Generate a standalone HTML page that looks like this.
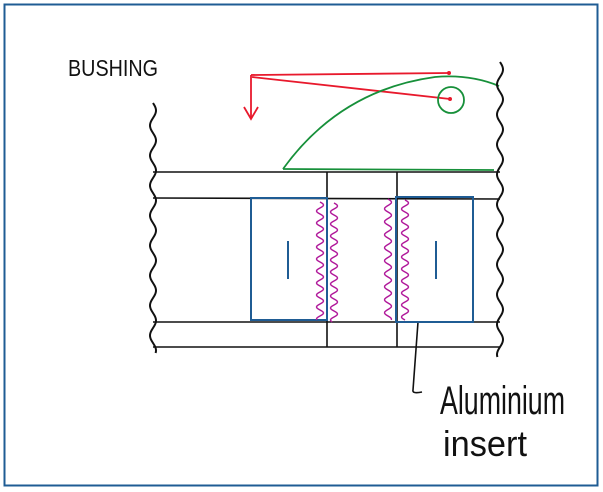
<!DOCTYPE html>
<html><head><meta charset="utf-8"><style>
html,body{margin:0;padding:0;background:#fff;width:603px;height:492px;overflow:hidden}
</style></head><body>
<svg id="s" width="603" height="492" viewBox="0 0 603 492" xmlns="http://www.w3.org/2000/svg">
<rect x="4.5" y="4.5" width="593" height="481" fill="none" stroke="#1f5c94" stroke-width="2"/>
<text x="68" y="76" font-family="Liberation Sans, sans-serif" font-size="23" fill="#111" textLength="90" lengthAdjust="spacingAndGlyphs">BUSHING</text>
<g stroke="#111" stroke-width="1.6" fill="none">
<line x1="153" y1="172" x2="500" y2="172"/>
<line x1="153" y1="198" x2="500" y2="199"/>
<line x1="153" y1="322" x2="500" y2="322"/>
<line x1="153" y1="347" x2="500" y2="347"/>
<line x1="327" y1="172" x2="327" y2="347"/>
<line x1="397" y1="172" x2="397" y2="347"/>
<path d="M418 322 L413 390 Q412 394 422 392"/>
</g>
<g stroke="#1f5c94" stroke-width="2" fill="none">
<rect x="251" y="198" width="76" height="122"/>
<rect x="396" y="197" width="77" height="125"/>
<line x1="288" y1="241" x2="288" y2="279"/>
<line x1="436" y1="241" x2="436" y2="279"/>
</g>
<g stroke="#e8192c" stroke-width="1.8" fill="none">
<line x1="251" y1="75" x2="449" y2="73"/>
<line x1="252" y1="77" x2="450" y2="99"/>
<line x1="251" y1="75" x2="251" y2="119"/>
<polyline points="244,107 251,119 258,107"/>
</g>
<circle cx="449" cy="73" r="2" fill="#e8192c"/>
<circle cx="450" cy="99" r="2" fill="#e8192c"/>
<g stroke="#17903a" stroke-width="1.8" fill="none">
<circle cx="451" cy="100" r="13"/>
<path d="M283 169 Q340 90 435 77 Q470 74 499 86"/>
<line x1="283" y1="169" x2="494" y2="170"/>
</g>
<g id="w" fill="none"></g>
<text x="440" y="414" font-family="Liberation Sans, sans-serif" font-size="40" fill="#111" textLength="125" lengthAdjust="spacingAndGlyphs">Aluminium</text>
<text x="443" y="456" font-family="Liberation Sans, sans-serif" font-size="36" fill="#111" textLength="84" lengthAdjust="spacingAndGlyphs">insert</text>
</svg>
<script>
var g=document.getElementById('w');
function wav(x,y0,y1,amp,per,col,sw){
 var d='M'+x+' '+y0;
 for(var y=y0;y<=y1;y+=1){d+=' L'+(x+amp*Math.sin((y-y0)/per*2*Math.PI)).toFixed(2)+' '+y;}
 var p=document.createElementNS('http://www.w3.org/2000/svg','path');
 p.setAttribute('d',d);p.setAttribute('stroke',col);p.setAttribute('stroke-width',sw);g.appendChild(p);
}
wav(153,103,353,3,30,'#111',2);
wav(500,62,357,3,30,'#111',2);
wav(320,202,320,3.5,12,'#b0189a',1.4);
wav(334,203,322,3.5,12,'#b0189a',1.4);
wav(388,199,320,3.5,13,'#b0189a',1.4);
wav(405,200,320,3.5,12,'#b0189a',1.4);
</script>
</body></html>
